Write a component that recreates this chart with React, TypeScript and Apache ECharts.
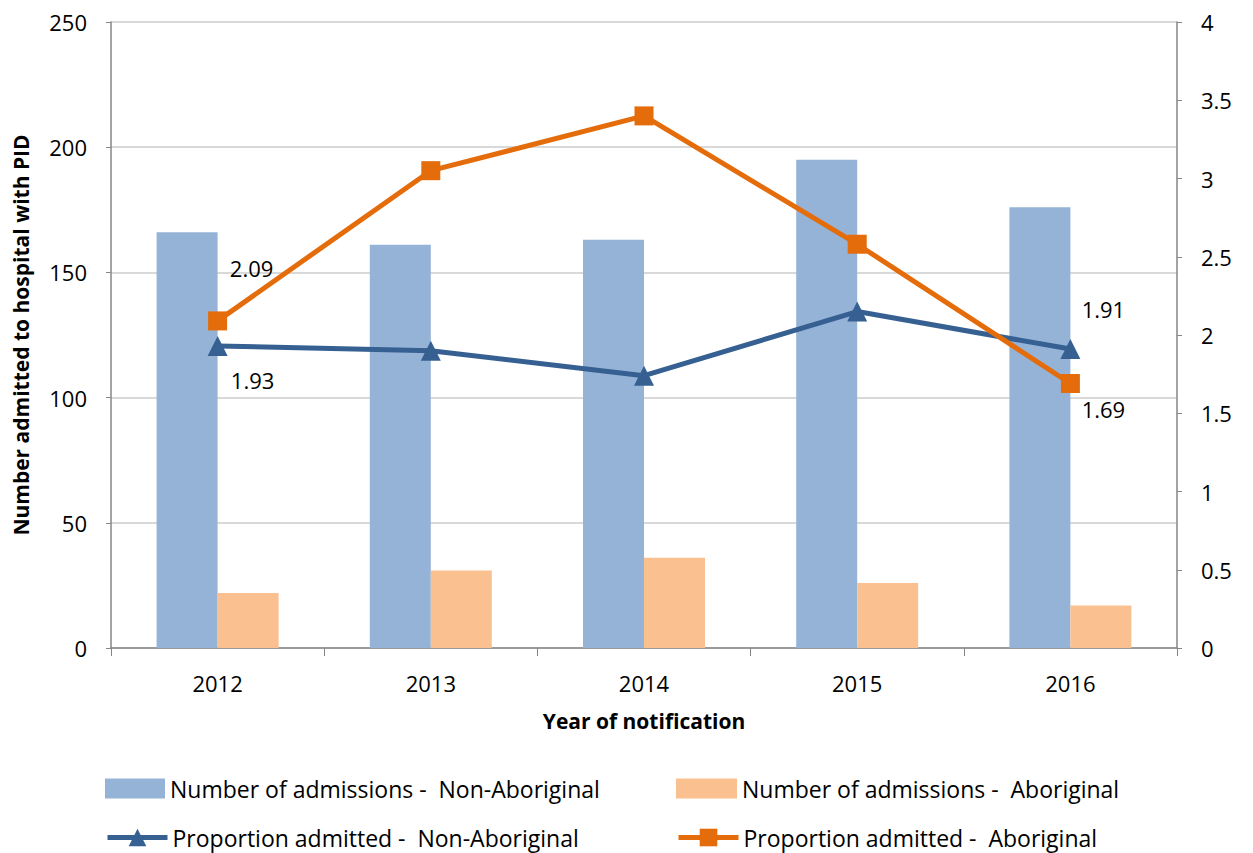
import React, { useEffect, useRef } from "react";
import * as echarts from "echarts";

const years = ["2012", "2013", "2014", "2015", "2016"];
const admissionsNonAboriginal = [166, 161, 163, 195, 176];
const admissionsAboriginal = [22, 31, 36, 26, 17];
const proportionNonAboriginal = [1.93, 1.9, 1.74, 2.15, 1.91];
const proportionAboriginal = [2.09, 3.05, 3.4, 2.58, 1.69];

const names = [
  "Number of admissions -  Non-Aboriginal",
  "Number of admissions -  Aboriginal",
  "Proportion admitted -  Non-Aboriginal",
  "Proportion admitted -  Aboriginal",
];

const FONT = "'Open Sans', sans-serif";

export default function App() {
  const ref = useRef<HTMLDivElement>(null);
  useEffect(() => {
    if (!ref.current) return;
    const chart = echarts.init(ref.current, null, { renderer: "svg" });
    const labelStyle = { show: true, fontSize: 22, color: "#000", fontFamily: FONT };
    const nonAbData = proportionNonAboriginal.map((v, i) => {
      if (i === 0) return { value: v, label: { ...labelStyle, position: "bottom", offset: [35, 8], formatter: "{c}" } };
      if (i === 4) return { value: v, label: { ...labelStyle, position: "top", offset: [33, -14], formatter: "{c}" } };
      return v;
    });
    const abData = proportionAboriginal.map((v, i) => {
      if (i === 0) return { value: v, label: { ...labelStyle, position: "top", offset: [34, -27], formatter: "{c}" } };
      if (i === 4) return { value: v, label: { ...labelStyle, position: "bottom", offset: [33, 0], formatter: "{c}" } };
      return v;
    });
    const legendText = { fontSize: 23, color: "#000", fontFamily: FONT };
    const lineLegend = { itemWidth: 60, itemHeight: 22, textStyle: legendText, lineStyle: { width: 5 } };
    chart.setOption({
      animation: false,
      textStyle: { fontFamily: FONT },
      grid: { left: 111, right: 76, top: 22, bottom: 205, containLabel: false },
      legend: [
        { data: [{ name: names[0], icon: "rect" }], left: 100, top: 772, itemWidth: 60, itemHeight: 20, textStyle: legendText },
        { data: [{ name: names[1], icon: "rect" }], left: 671, top: 772, itemWidth: 61, itemHeight: 20, textStyle: legendText },
        { data: [names[2]], left: 100, top: 821, ...lineLegend },
        { data: [names[3]], left: 671, top: 821, ...lineLegend },
      ],
      xAxis: {
        type: "category",
        data: years,
        name: "Year of notification",
        nameLocation: "middle",
        nameGap: 62,
        nameTextStyle: { fontSize: 21, fontWeight: "bold", color: "#000", fontFamily: FONT },
        axisLine: { lineStyle: { color: "#868686", width: 1.5 } },
        axisTick: { show: true, length: 8, lineStyle: { color: "#868686" } },
        axisLabel: { fontSize: 22, color: "#000", margin: 24, fontFamily: FONT },
      },
      yAxis: [
        {
          type: "value",
          min: 0,
          max: 250,
          interval: 50,
          name: "Number admitted to hospital with PID",
          nameLocation: "middle",
          nameGap: 80,
          nameTextStyle: { fontSize: 21, fontWeight: "bold", color: "#000", fontFamily: FONT },
          axisLine: { show: true, lineStyle: { color: "#868686", width: 1.5 } },
          axisTick: { show: true, length: 5, lineStyle: { color: "#868686" } },
          axisLabel: { fontSize: 22, color: "#000", margin: 24, fontFamily: FONT },
          splitLine: { lineStyle: { color: "#d9d9d9", width: 2 } },
        },
        {
          type: "value",
          min: 0,
          max: 4,
          interval: 0.5,
          position: "right",
          axisLine: { show: true, lineStyle: { color: "#868686", width: 1.5 } },
          axisTick: { show: true, length: 5, lineStyle: { color: "#868686" } },
          axisLabel: { fontSize: 22, color: "#000", margin: 24, fontFamily: FONT },
          splitLine: { show: false },
        },
      ],
      series: [
        {
          name: names[0],
          type: "bar",
          data: admissionsNonAboriginal,
          barWidth: 61,
          barGap: "0%",
          itemStyle: { color: "#95B3D7" },
          yAxisIndex: 0,
        },
        {
          name: names[1],
          type: "bar",
          data: admissionsAboriginal,
          barWidth: 61,
          barGap: "0%",
          itemStyle: { color: "#FAC090" },
          yAxisIndex: 0,
        },
        {
          name: names[2],
          type: "line",
          data: nonAbData,
          yAxisIndex: 1,
          symbol: "triangle",
          symbolSize: 20,
          lineStyle: { color: "#376092", width: 5 },
          itemStyle: { color: "#376092" },
          z: 3,
        },
        {
          name: names[3],
          type: "line",
          data: abData,
          yAxisIndex: 1,
          symbol: "rect",
          symbolSize: 19,
          lineStyle: { color: "#E46C0A", width: 5 },
          itemStyle: { color: "#E46C0A" },
          z: 4,
        },
      ],
    });
    return () => chart.dispose();
  }, []);
  return <div ref={ref} style={{ width: 1253, height: 853, position: "absolute", left: 0, top: 0 }} />;
}
